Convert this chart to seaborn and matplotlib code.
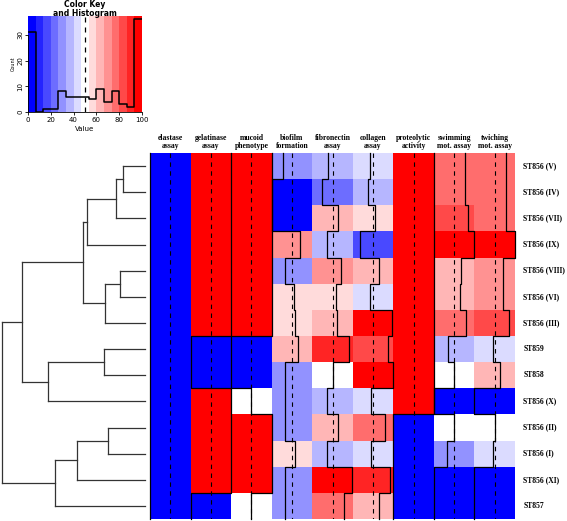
import numpy as np
import pandas as pd
import seaborn as sns
import matplotlib.pyplot as plt
from matplotlib.colors import ListedColormap

# rows in dendrogram order (top to bottom)
strains = ["ST856 (V)", "ST856 (IV)", "ST856 (VII)", "ST856 (IX)", "ST856 (VIII)",
           "ST856 (VI)", "ST856 (III)", "ST859", "ST858", "ST856 (X)",
           "ST856 (II)", "ST856 (I)", "ST856 (XI)", "ST857"]
assays = ["elastase\nassay", "gelatinase\nassay", "mucoid\nphenotype", "biofilm\nformation",
          "fibronectin\nassay", "collagen\nassay", "proteolytic\nactivity",
          "swimming\nmot. assay", "twiching\nmot. assay"]

elastase    = [0, 0, 0, 0, 0, 0, 0, 0, 0, 0, 0, 0, 0, 0]
gelatinase  = [100, 100, 100, 100, 100, 100, 100, 0, 0, 100, 100, 100, 100, 0]
mucoid      = [100, 100, 100, 100, 100, 100, 100, 0, 0, 50, 100, 100, 100, 50]
biofilm     = [29, 2, 2, 71, 32, 55, 58, 66, 33, 33, 33, 57, 33, 33]
fibronectin = [39, 25, 63, 36, 72, 58, 62, 90, 50, 36, 63, 36, 98, 78]
collagen    = [43, 37, 55, 18, 64, 42, 97, 86, 98, 45, 79, 45, 92, 65]
proteolytic = [100, 100, 100, 100, 100, 100, 100, 100, 100, 100, 0, 0, 0, 0]
swimming    = [76, 76, 84, 100, 66, 64, 79, 35, 50, 0, 50, 32, 0, 0]
twiching    = [79, 79, 79, 100, 71, 71, 85, 46, 63, 0, 50, 46, 0, 0]

# row dendrogram: (child a, child b, height); leaves are 0..13, new nodes from 14 on
linkage = [(0, 1, 22), (14, 2, 29), (15, 3, 58), (4, 5, 25), (17, 6, 40),
           (16, 18, 62), (7, 8, 41), (20, 9, 97), (19, 21, 123),
           (10, 11, 37), (23, 12, 68), (24, 13, 90), (22, 25, 143)]

df = pd.DataFrame(np.array([elastase, gelatinase, mucoid, biofilm, fibronectin, collagen,
                            proteolytic, swimming, twiching]).T,
                  index=strains, columns=assays)

# bluered(15) as in gplots
n_col = 15
half = n_col // 2
cols = [(i / half, i / half, 1.0) for i in range(half)] + [(1.0, 1.0, 1.0)] + \
       [(1.0, 1 - j / half, 1 - j / half) for j in range(1, half + 1)]
cmap = ListedColormap(cols)
breaks = np.linspace(0, 100, n_col + 1)

fig = plt.figure(figsize=(5.67, 5.21), dpi=100)
W, H = 567, 521


def px_axes(x0, y0, x1, y1):
    return fig.add_axes([x0 / W, 1 - y1 / H, (x1 - x0) / W, (y1 - y0) / H])


serif = {"family": "Liberation Serif", "weight": "bold", "size": 5.5}

# heatmap with column trace
ax = px_axes(150, 153, 515, 519)
sns.heatmap(df, cmap=cmap, vmin=0, vmax=100, cbar=False, ax=ax,
            xticklabels=True, yticklabels=True)
ax.xaxis.tick_top()
ax.yaxis.tick_right()
ax.tick_params(length=0, pad=2, axis="x")
ax.tick_params(length=0, pad=6, axis="y")
ax.set_xticklabels(assays, rotation=0, fontdict=serif, linespacing=1.0)
ax.set_yticklabels(strains, rotation=0, fontdict=serif, va="center")
ax.set_xlabel("")
ax.set_ylabel("")
nr = len(strains)
for j, name in enumerate(assays):
    ax.plot([j + 0.5, j + 0.5], [0, nr], color="black", lw=0.8, ls=(0, (4, 4)))
    xv = j + df[name].values / 100.0
    xs = np.repeat(xv, 2)
    ys = np.repeat(np.arange(nr + 1), 2)[1:-1]
    ax.plot(xs, ys, color="black", lw=0.9, clip_on=False)

# row dendrogram
axd = px_axes(0, 153, 146, 519)
pos = {i: i + 0.5 for i in range(nr)}
hgt = {i: 0 for i in range(nr)}
for k, (a, b, h) in enumerate(linkage):
    node = nr + k
    for c in (a, b):
        axd.plot([hgt[c], h], [pos[c], pos[c]], color="#333333", lw=0.9, clip_on=False)
    axd.plot([h, h], [pos[a], pos[b]], color="#333333", lw=0.9, clip_on=False)
    pos[node] = (pos[a] + pos[b]) / 2
    hgt[node] = h
axd.set_xlim(145, -1)
axd.set_ylim(nr, 0)
axd.axis("off")

# color key and histogram
axk = px_axes(28, 16, 142, 112)
counts, _ = np.histogram(df.values.ravel(), bins=breaks)
ymax = 37.3
axk.pcolormesh(breaks, [0, ymax], np.array([breaks[:-1] + 1e-6]), cmap=cmap, vmin=0, vmax=100)
axk.step(breaks, np.append(counts, counts[-1]), where="post", color="black", lw=1.1)
axk.axvline(50, color="black", lw=0.9, ls=(0, (4, 4)))
axk.set_xlim(0, 100)
axk.set_ylim(0, ymax)
axk.set_xticks([0, 20, 40, 60, 80, 100])
axk.set_yticks([0, 10, 20, 30])
axk.tick_params(labelsize=5, length=2, width=0.6, pad=1.5)
for lab in axk.get_yticklabels():
    lab.set_rotation(90)
    lab.set_va("center")
for s in ["top", "right"]:
    axk.spines[s].set_visible(False)
axk.spines["left"].set_bounds(0, 30)
axk.spines["left"].set_linewidth(0.6)
axk.spines["bottom"].set_linewidth(0.6)
axk.set_xlabel("Value", fontsize=5, labelpad=2)
axk.set_ylabel("Count", fontsize=3.5, labelpad=1)
fig.text(85 / W, 1 - 9 / H, "Color Key\nand Histogram", ha="center", va="center",
         fontsize=5.5, fontweight="bold", linespacing=1.0)

fig.savefig("out.png", dpi=100)
